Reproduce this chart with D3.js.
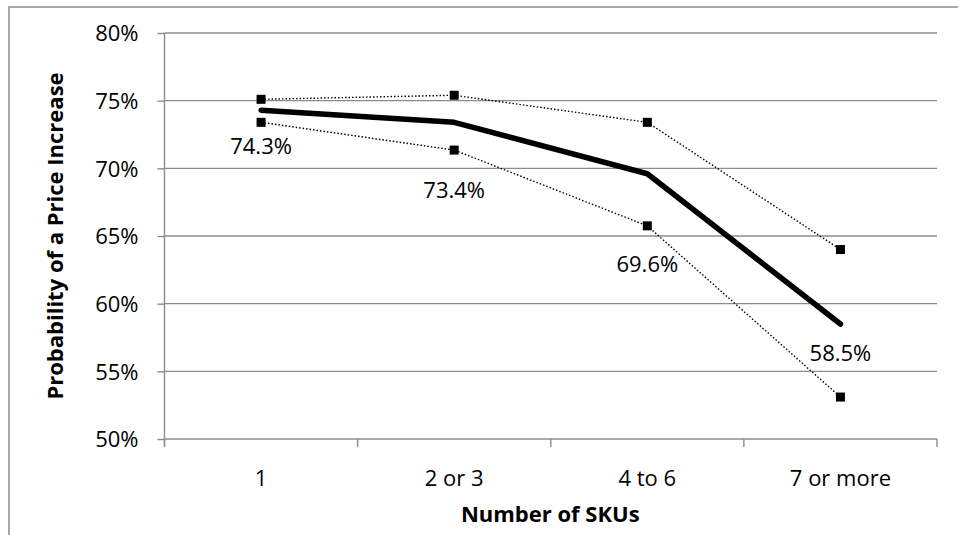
<!DOCTYPE html>
<html>
<head>
<meta charset="utf-8">
<script src="https://cdn.jsdelivr.net/npm/d3@7"></script>
<style>
  html, body { margin: 0; padding: 0; background: #fff; }
  svg { display: block; }
  text { font-family: "Open Sans", sans-serif; fill: #000; }
</style>
</head>
<body>
<svg id="chart" width="958" height="535"></svg>
<script>
// ---- data ----
const categories = ["1", "2 or 3", "4 to 6", "7 or more"];
const meanValues = [74.3, 73.4, 69.6, 58.5];
const upperValues = [75.1, 75.4, 73.4, 64.0];
const lowerValues = [73.4, 71.35, 65.75, 53.1];
const labelTexts = ["74.3%", "73.4%", "69.6%", "58.5%"];
const labelAt = [71.65, 68.4, 62.9, 56.35];   // vertical position of the data labels, in % units
const yTicks = [50, 55, 60, 65, 70, 75, 80];

// ---- layout ----
const W = 958, H = 535;
const plot = { left: 164.5, right: 937, top: 33, bottom: 439 };

const svg = d3.select("#chart");

// outer chart border (extends beyond the picture on right/bottom)
svg.append("rect")
  .attr("x", 9).attr("y", 7)
  .attr("width", 980).attr("height", 560)
  .attr("fill", "none").attr("stroke", "#8c8c8c").attr("stroke-width", 1.5);

const x = d3.scaleBand().domain(categories).range([plot.left, plot.right]).padding(0);
const y = d3.scaleLinear().domain([50, 80]).range([plot.bottom, plot.top]);

const gridColor = "#8c8c8c";

// gridlines
svg.append("g").selectAll("line").data(yTicks.filter(d => d !== 50)).join("line")
  .attr("x1", plot.left).attr("x2", plot.right)
  .attr("y1", d => y(d)).attr("y2", d => y(d))
  .attr("stroke", gridColor).attr("stroke-width", 1.4);

// y axis
const yAxis = d3.axisLeft(y).tickValues(yTicks).tickSize(7).tickPadding(19)
  .tickFormat(d => d + "%");
const gy = svg.append("g").attr("transform", `translate(${plot.left},0)`).call(yAxis);
gy.select(".domain").attr("stroke", gridColor).attr("stroke-width", 1.4)
  .attr("d", `M0,${plot.bottom + 7}V${plot.top}`);
gy.selectAll(".tick line").attr("stroke", gridColor).attr("stroke-width", 1.4);
gy.selectAll(".tick text").attr("font-family", "Open Sans").attr("font-size", 22).attr("fill", "#000")
  .attr("dy", "0.36em");

// x axis
const xAxis = d3.axisBottom(x).tickSize(0).tickPadding(31);
const gx = svg.append("g").attr("transform", `translate(0,${plot.bottom})`).call(xAxis);
gx.select(".domain").attr("stroke", gridColor).attr("stroke-width", 1.4)
  .attr("d", `M${plot.left},0H${plot.right}`);
gx.selectAll(".tick text").attr("font-family", "Open Sans").attr("font-size", 22).attr("fill", "#000");
// category boundary ticks
const boundaries = categories.map(c => x(c)).concat([x(categories[categories.length - 1]) + x.bandwidth()]);
gx.append("g").selectAll("line").data(boundaries).join("line")
  .attr("x1", d => d).attr("x2", d => d).attr("y1", 0).attr("y2", 8)
  .attr("stroke", gridColor).attr("stroke-width", 1.4);

const cx = c => x(c) + x.bandwidth() / 2;

// bound lines (dotted)
const line = d3.line().x((d, i) => cx(categories[i])).y(d => y(d));
[upperValues, lowerValues].forEach(vals => {
  svg.append("path").datum(vals).attr("d", line)
    .attr("fill", "none").attr("stroke", "#000").attr("stroke-width", 1.4)
    .attr("stroke-dasharray", "1.5,2");
  svg.append("g").selectAll("rect").data(vals).join("rect")
    .attr("x", (d, i) => cx(categories[i]) - 4.5)
    .attr("y", d => y(d) - 4.5)
    .attr("width", 9).attr("height", 9).attr("fill", "#000");
});

// mean line
svg.append("path").datum(meanValues).attr("d", line)
  .attr("fill", "none").attr("stroke", "#000").attr("stroke-width", 5.5)
  .attr("stroke-linecap", "round").attr("stroke-linejoin", "round");

// data labels
svg.append("g").selectAll("text").data(labelTexts).join("text")
  .attr("x", (d, i) => cx(categories[i]))
  .attr("y", (d, i) => y(labelAt[i]))
  .attr("dy", "0.36em")
  .attr("text-anchor", "middle")
  .attr("font-size", 22)
  .text(d => d);

// axis titles
svg.append("text")
  .attr("x", (plot.left + plot.right) / 2 - 0.5)
  .attr("y", 514).attr("dy", "0.36em")
  .attr("text-anchor", "middle")
  .attr("font-size", 22).attr("font-weight", "bold")
  .text("Number of SKUs");

svg.append("text")
  .attr("transform", `translate(55,${(plot.top + plot.bottom) / 2}) rotate(-90)`)
  .attr("dy", "0.36em")
  .attr("text-anchor", "middle")
  .attr("font-size", 22).attr("font-weight", "bold")
  .text("Probability of a Price Increase");
</script>
</body>
</html>
